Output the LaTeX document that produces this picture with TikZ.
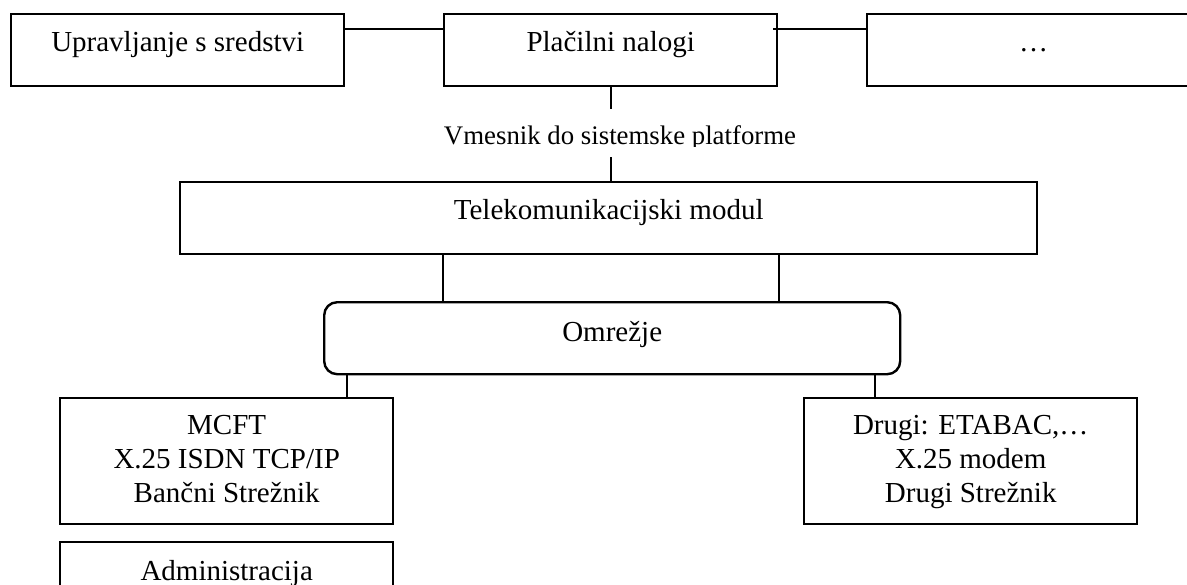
\documentclass[tikz,border=0pt]{standalone}
\usepackage{fontspec}
\setmainfont{Liberation Serif}
\begin{document}
\begin{tikzpicture}[x=0.5pt,y=-0.5pt,
  box/.style={draw,line width=1.2pt,inner sep=0pt,anchor=north west,
    font=\fontsize{14.5}{17}\selectfont,text height=18.5pt,text depth=17.5pt},
  conn/.style={line width=0.9pt}]
\clip (0,0) rectangle (1187,584);
% top row
\node[box,minimum width=166.5pt] (up) at (10,13) {Upravljanje s sredstvi};
\node[box,minimum width=166.5pt] (pn) at (443,13) {Plačilni nalogi};
\node[box,minimum width=166.5pt] (dots) at (866,13) {…};
% middle
\node[box,minimum width=428.5pt] (tm) at (179,181) {Telekomunikacijski modul};
\node[box,rounded corners=6.5pt,minimum width=288pt,text height=19.5pt,text depth=16.5pt] (om) at (323,301) {Omrežje};
% bottom
\node[box,minimum width=166.5pt,text height=18pt,text depth=45pt] (mcft) at (59,397)
  {\begin{tabular}[t]{@{}c@{}}MCFT\\X.25 ISDN TCP/IP\\Bančni Strežnik\end{tabular}};
\node[box,minimum width=166.5pt,text height=18pt,text depth=45pt] (drugi) at (803,397)
  {\begin{tabular}[t]{@{}c@{}}Drugi: ETABAC,…\\X.25 modem\\Drugi Strežnik\end{tabular}};
\node[box,minimum width=166.5pt,text height=19pt,text depth=17pt] (adm) at (59,541) {Administracija};
% interface label
\begin{scope}
  \clip (300,100) rectangle (950,146.5);
  \node[anchor=base,inner sep=0pt,font=\fontsize{13.4}{16}\selectfont] (vm) at (620,144) {Vmesnik do sistemske platforme};
\end{scope}
\coordinate (vmtop) at (611,109);
\coordinate (vmbot) at (611,157);
% connectors
\draw[conn] ([yshift=10.5pt]up.east) -- ([yshift=10.5pt]pn.west);
\draw[conn] ([xshift=-2.5pt,yshift=10.5pt]pn.east) -- ([yshift=10.5pt]dots.west);
\draw[conn] (vmtop |- pn.south) -- (vmtop);
\draw[conn] (vmbot) -- (vmbot |- tm.north);
\draw[conn] (443,0 |- tm.south) -- (443,0 |- om.north);
\draw[conn] (779,0 |- tm.south) -- (779,0 |- om.north);
\draw[conn] (347,0 |- om.south) -- (347,0 |- mcft.north);
\draw[conn] (875,0 |- om.south) -- (875,0 |- drugi.north);
\end{tikzpicture}
\end{document}
